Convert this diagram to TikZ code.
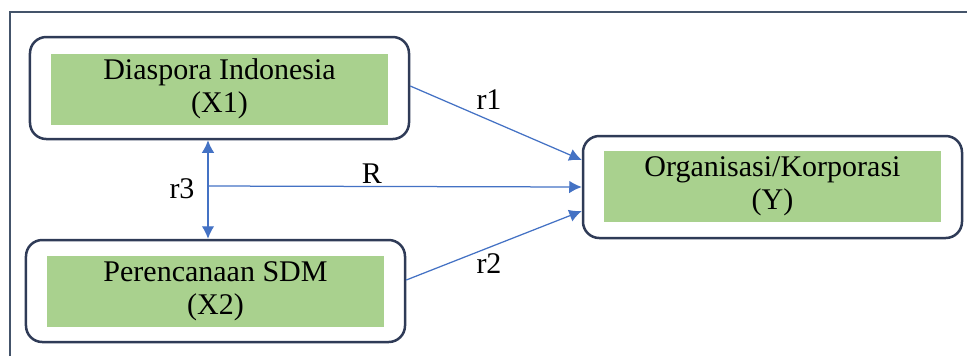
\documentclass[tikz,border=0pt]{standalone}
\usepackage{fontspec}
\setmainfont{Liberation Serif}
\usepackage{tikz}
\usetikzlibrary{positioning}
\usetikzlibrary{calc}
\usetikzlibrary{arrows.meta}
\definecolor{framegray}{HTML}{44546A}
\definecolor{boxnavy}{HTML}{2F3B57}
\definecolor{varfill}{HTML}{A9D18E}
\definecolor{pathblue}{HTML}{4472C4}
\tikzset{every picture/.style={line width=0.5pt},
  varbox/.style={draw=boxnavy, line width=1pt, rounded corners=6.5pt, minimum width=151.6pt, minimum height=40.8pt},
  varfill/.style={fill=varfill, minimum width=134.8pt, minimum height=28.4pt, align=center, inner sep=0pt, font=\rmfamily\fontsize{12pt}{13.4pt}\selectfont},
  path/.style={draw=pathblue, -{Latex[length=5pt,width=5pt]}},
  lbl/.style={font=\rmfamily\fontsize{12pt}{14pt}\selectfont}}

\begin{document}
\begin{tikzpicture}[x=0.4pt, y=-0.4pt]
\useasboundingbox (0,0) rectangle (967,356);
\draw [framegray, line width=1pt] (10,356) -- (10,12) -- (967,12);
\node (x1) [varbox] at (219.5,88) {};
\node (x2) [varbox] at (215.5,291) {};
\node (y)  [varbox] at (772.5,187) {};
\node (x1t) [varfill] at (219.5,89) {Diaspora Indonesia\\(X1)};
\node (x2t) [varfill] at (215.5,291) {Perencanaan SDM\\(X2)};
\node (yt)  [varfill] at (772.5,186.5) {Organisasi/Korporasi\\(Y)};
\coordinate (rj) at (208,186);
\draw [path] ([yshift=0.8pt]x1.east) -- ([yshift=10.8pt]y.west);
\draw [path] ([yshift=4.4pt]x2.east) -- ([yshift=-9.6pt]y.west);
\draw [path] (rj) -- (y.west);
\draw [path, {Latex[length=5pt,width=5pt]}-{Latex[length=5pt,width=5pt]}] (rj |- x1.south) -- (rj |- x2.north);
\node (r1) [lbl] at (489,100) {r1};
\node (r2) [lbl] at (489,264) {r2};
\node (rr) [lbl] at (372,174) {R};
\node (r3) [lbl] at (182,189) {r3};
\end{tikzpicture}
\end{document}
